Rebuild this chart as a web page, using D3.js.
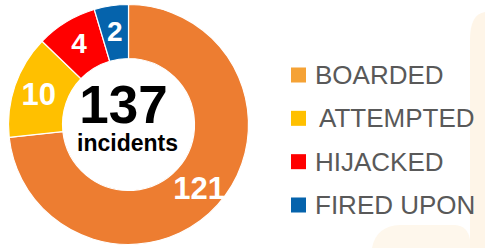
<!DOCTYPE html>
<html>
<head>
<meta charset="utf-8">
<script src="https://cdn.jsdelivr.net/npm/d3@7"></script>
<style>
  html, body { margin: 0; padding: 0; background: #ffffff; }
  svg { display: block; font-family: "Liberation Sans", Arial, sans-serif; }
</style>
</head>
<body>
<svg id="chart" width="485" height="248"></svg>
<script>
  // counts printed on the ring
  const categories = ["BOARDED", "ATTEMPTED", "HIJACKED", "FIRED UPON"];
  const counts = [121, 10, 4, 2];
  // share of the ring each slice takes as drawn (%)
  const ringShare = [73.3, 13.9, 8.2, 4.6];
  const total = 137;
  const totalLabel = "incidents";

  const sliceColors = ["#ED7D31", "#FFC000", "#FF0000", "#0563AC"];
  const swatchColors = ["#F5A235", "#FFC000", "#FF0000", "#0563AC"];

  const svg = d3.select("#chart");

  // faint cream shapes in the background
  svg.append("path")
    .attr("d", "M470,248 L470,40 Q470,14 485,12 L485,248 Z")
    .attr("fill", "#FEF5E8");
  svg.append("path")
    .attr("d", "M372,248 Q376,226 400,225 L455,225 Q468,226 470,240 L470,248 Z")
    .attr("fill", "#FEF7EC");

  const cx = 128.5, cy = 124.5;
  const outerR = 120, innerR = 66;

  const data = categories.map((name, i) => ({
    name: name,
    count: counts[i],
    share: ringShare[i],
    color: sliceColors[i],
    swatch: swatchColors[i],
  }));

  const pie = d3.pie().sort(null).value((d) => d.share);
  const arc = d3.arc().innerRadius(innerR).outerRadius(outerR);
  const labelArc = d3.arc().innerRadius(innerR + 4).outerRadius(outerR);

  const g = svg.append("g").attr("transform", "translate(" + cx + "," + cy + ")");

  const arcs = pie(data);

  g.selectAll("path.slice")
    .data(arcs)
    .join("path")
    .attr("class", "slice")
    .attr("d", arc)
    .attr("fill", (d) => d.data.color)
    .attr("stroke", "#ffffff")
    .attr("stroke-width", 1.2);

  g.selectAll("text.val")
    .data(arcs)
    .join("text")
    .attr("class", "val")
    .attr("transform", (d) => "translate(" + labelArc.centroid(d) + ")")
    .attr("text-anchor", "middle")
    .attr("dy", "0.36em")
    .attr("fill", "#ffffff")
    .attr("font-weight", "bold")
    .attr("font-size", (d) => (d.data.count >= 10 ? 31 : 28))
    .text((d) => d.data.count);

  g.append("text")
    .attr("x", -5)
    .attr("y", -2)
    .attr("text-anchor", "middle")
    .attr("font-weight", "bold")
    .attr("font-size", 53)
    .attr("fill", "#000000")
    .text(total);

  g.append("text")
    .attr("x", -1)
    .attr("y", 26)
    .attr("text-anchor", "middle")
    .attr("font-weight", "bold")
    .attr("font-size", 23)
    .attr("fill", "#000000")
    .text(totalLabel);

  // legend
  const legendY = d3.scalePoint()
    .domain(categories)
    .range([75, 205]);

  const legend = svg.append("g");

  const item = legend.selectAll("g")
    .data(data)
    .join("g")
    .attr("transform", (d) => "translate(291," + legendY(d.name) + ")");

  item.append("rect")
    .attr("x", 0)
    .attr("y", -7.5)
    .attr("width", 15)
    .attr("height", 15)
    .attr("fill", (d) => d.swatch);

  item.append("text")
    .attr("x", (d) => (d.name === "ATTEMPTED" ? 28 : 24))
    .attr("y", 9)
    .attr("font-size", 26)
    .attr("fill", "#595959")
    .text((d) => d.name);
</script>
</body>
</html>
